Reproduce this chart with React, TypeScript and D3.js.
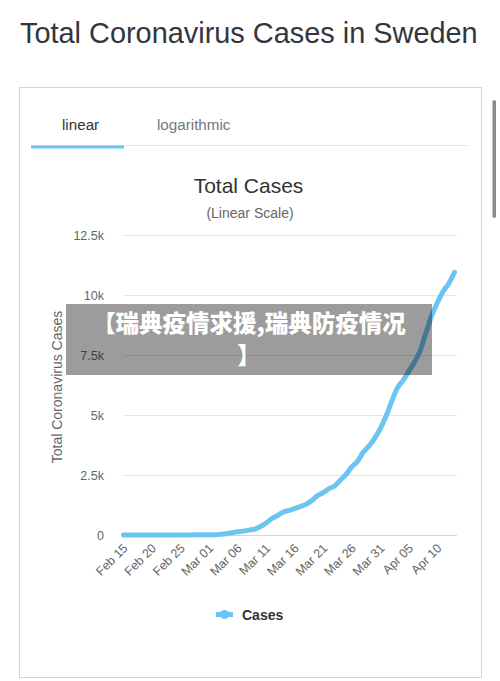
import React from "react";
import * as d3 from "d3";

// chart data
const dates = [
  "Feb 15", "Feb 16", "Feb 17", "Feb 18", "Feb 19", "Feb 20", "Feb 21", "Feb 22", "Feb 23", "Feb 24",
  "Feb 25", "Feb 26", "Feb 27", "Feb 28", "Feb 29", "Mar 01", "Mar 02", "Mar 03", "Mar 04", "Mar 05",
  "Mar 06", "Mar 07", "Mar 08", "Mar 09", "Mar 10", "Mar 11", "Mar 12", "Mar 13", "Mar 14", "Mar 15",
  "Mar 16", "Mar 17", "Mar 18", "Mar 19", "Mar 20", "Mar 21", "Mar 22", "Mar 23", "Mar 24", "Mar 25",
  "Mar 26", "Mar 27", "Mar 28", "Mar 29", "Mar 30", "Mar 31", "Apr 01", "Apr 02", "Apr 03", "Apr 04",
  "Apr 05", "Apr 06", "Apr 07", "Apr 08", "Apr 09", "Apr 10", "Apr 11", "Apr 12", "Apr 13",
];
const cases = [
  1, 1, 1, 1, 1, 1, 1, 1, 1, 1,
  1, 2, 7, 12, 13, 14, 15, 30, 52, 94,
  137, 161, 203, 248, 355, 500, 687, 814, 961, 1022,
  1103, 1190, 1279, 1439, 1639, 1763, 1934, 2046, 2286, 2526,
  2840, 3069, 3447, 3700, 4028, 4435, 4947, 5568, 6131, 6443,
  6830, 7206, 7693, 8419, 9141, 9685, 10151, 10483, 10948,
];
const xTickLabels = [
  "Feb 15", "Feb 20", "Feb 25", "Mar 01", "Mar 06", "Mar 11",
  "Mar 16", "Mar 21", "Mar 26", "Mar 31", "Apr 05", "Apr 10",
];
const yTicks = [0, 2500, 5000, 7500, 10000, 12500];
const yTickLabels = ["0", "2.5k", "5k", "7.5k", "10k", "12.5k"];

const FONT = "'Liberation Sans', Arial, Helvetica, sans-serif";
const CJK = "'Noto Sans CJK SC', sans-serif";
const BLUE = "#6cc5f1";

export default function App() {
  const plotLeft = 123, plotRight = 457, plotTop = 235, plotBottom = 535;

  const x = d3.scalePoint<string>().domain(dates).range([123.5, 454.5]);
  const y = d3.scaleLinear().domain([0, 12500]).range([plotBottom, plotTop]);

  const line = d3
    .line<number>()
    .x((d, i) => x(dates[i]) as number)
    .y(d => y(d))
    .curve(d3.curveMonotoneX);

  return (
    <svg
      width={500}
      height={681}
      style={{ position: "absolute", left: 0, top: 0, background: "#fff" }}
      fontFamily={FONT}
    >
      <text x={20} y={43} fontSize={28.9} fill="#34353d">
        Total Coronavirus Cases in Sweden
      </text>

      {/* card */}
      <rect x={19.5} y={87.5} width={462} height={590} fill="#fff" stroke="#d4d4d4" />

      {/* tabs */}
      <text x={62} y={130} fontSize={15.2} fill="#333">linear</text>
      <text x={157} y={130} fontSize={15.2} fill="#777">logarithmic</text>
      <line x1={31} x2={468} y1={145.5} y2={145.5} stroke="#e8e8e8" />
      <rect x={31} y={145.5} width={93} height={3} fill={BLUE} />

      {/* chart titles */}
      <text x={248.5} y={193} fontSize={21} fill="#333" textAnchor="middle">Total Cases</text>
      <text x={250} y={218} fontSize={14} fill="#666" textAnchor="middle">(Linear Scale)</text>

      {/* grid + y axis */}
      {yTicks.map((t, i) => (
        <g key={t}>
          <line
            x1={plotLeft}
            x2={plotRight}
            y1={y(t) + 0.5}
            y2={y(t) + 0.5}
            stroke={t === 0 ? "#ccd6eb" : "#e6e6e6"}
          />
          <text x={104} y={y(t) + 5} fontSize={12.5} fill="#666" textAnchor="end">
            {yTickLabels[i]}
          </text>
        </g>
      ))}
      <text
        transform={`translate(62,${(plotTop + plotBottom) / 2 + 2}) rotate(-90)`}
        fontSize={14}
        fill="#666"
        textAnchor="middle"
      >
        Total Coronavirus Cases
      </text>

      {/* x axis labels */}
      {xTickLabels.map(lbl => (
        <text
          key={lbl}
          transform={`translate(${(x(lbl) as number) + 5},${plotBottom + 14}) rotate(-45)`}
          fontSize={12.5}
          fill="#666"
          textAnchor="end"
        >
          {lbl}
        </text>
      ))}

      {/* series */}
      <path
        d={line(cases) || ""}
        fill="none"
        stroke={BLUE}
        strokeWidth={5}
        strokeLinecap="round"
        strokeLinejoin="round"
      />

      {/* legend */}
      <line x1={216} x2={233} y1={614.5} y2={614.5} stroke={BLUE} strokeWidth={5} />
      <circle cx={224.5} cy={614.5} r={4.5} fill={BLUE} />
      <text x={242} y={619.5} fontSize={14} fontWeight="bold" fill="#333">Cases</text>

      {/* scrollbar */}
      <rect x={492.5} y={100} width={3.5} height={118} rx={1.75} fill="#8a8a8a" />

      {/* overlay banner */}
      <rect x={66} y={304} width={366} height={71} fill="rgba(0,0,0,0.39)" />
      <text x={249} y={332} fontSize={23.5} fontWeight={900} fill="#fff" textAnchor="middle" fontFamily={CJK}>
        【瑞典疫情求援,瑞典防疫情况
      </text>
      <text x={249} y={364} fontSize={23.5} fontWeight={900} fill="#fff" textAnchor="middle" fontFamily={CJK}>
        】
      </text>
    </svg>
  );
}
